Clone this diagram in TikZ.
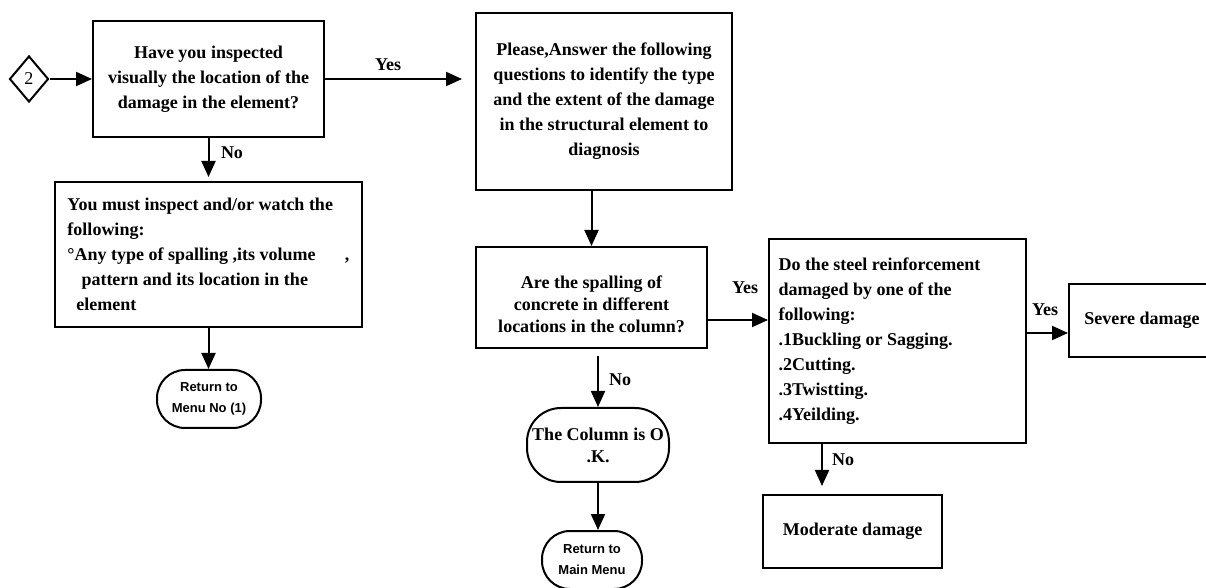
\documentclass[tikz,border=0pt]{standalone}
\usepackage{fontspec}
\setmainfont{Liberation Serif}
\newfontfamily\sansfam{Liberation Sans}
\usetikzlibrary{arrows.meta,shapes.geometric}
\begin{document}
\begin{tikzpicture}[x=0.5pt,y=-0.5pt,
  box/.style={draw,line width=1pt,inner sep=0pt,font=\bfseries\fontsize{9}{12.5}\selectfont,align=center},
  term/.style={draw,line width=1pt,inner sep=0pt,align=center},
  sansfont/.style={font=\sansfam\bfseries\fontsize{6.5}{10.5}\selectfont},
  arr/.style={line width=1pt,-{Triangle[length=8pt,width=7pt]}},
  lbl/.style={font=\bfseries\fontsize{9}{11}\selectfont,inner sep=0pt}]
\useasboundingbox (0,0) rectangle (1206,588);
\clip (0,0) rectangle (1206,588);
% nodes
\node[diamond,draw,line width=1pt,minimum width=19.5pt,minimum height=23pt,inner sep=0pt,
  font=\fontsize{9}{11}\selectfont] (d) at (29,79) {2};
\node[box,minimum width=115.5pt,minimum height=58pt] (b1) at (208.5,79)
  {Have you inspected\\visually the location of the\\damage in the element?};
\node[box,minimum width=128pt,minimum height=88.5pt] (b3) at (604,101.5)
  {Please,Answer the following\\questions to identify the type\\and the extent of the damage\\in the structural element to\\diagnosis};
\node[box,minimum width=153.5pt,minimum height=72.5pt,align=flush left,text width=141pt] (b2) at (208.5,254.5)
  {You must inspect and/or watch the\\following:\\°Any type of spalling ,its volume\hfill,\\\hspace*{7pt}pattern and its location in the\\\hspace*{4.5pt}element};
\node[term,sansfont,rounded corners=14pt,minimum width=52pt,minimum height=29pt] (t1) at (209,399)
  {Return to\\Menu No (1)};
\node[box,minimum width=115.5pt,minimum height=50.5pt,font=\bfseries\fontsize{9}{11}\selectfont,
  text height=35.5pt] (b4) at (591.5,297.5)
  {Are the spalling of\\concrete in different\\locations in the column?};
\node[term,rounded corners=17pt,minimum width=71pt,minimum height=37pt,font=\bfseries\fontsize{9}{11}\selectfont] (t2) at (598,445)
  {The Column is O\\.K.};
\node[term,sansfont,rounded corners=14pt,minimum width=50pt,minimum height=29pt] (t3) at (592,560)
  {Return to\\Main Menu};
\node[box,minimum width=128.5pt,minimum height=102pt,align=flush left,text width=119pt] (b5) at (897.5,341)
  {Do the steel reinforcement\\damaged by one of the\\following:\\.1Buckling or Sagging.\\.2Cutting.\\.3Twistting.\\.4Yeilding.};
\node[box,minimum width=73pt,minimum height=36.5pt] (b6) at (1142,320.5) {Severe damage};
\node[box,minimum width=89.5pt,minimum height=36.5pt] (b7) at (852.5,531.5) {Moderate damage};
% labels
\node[lbl] (y1) at (388,65) {Yes};
\node[lbl] (n1) at (232,153) {No};
\node[lbl] (y2) at (745,288) {Yes};
\node[lbl] (n2) at (620,380) {No};
\node[lbl] (y3) at (1045,310) {Yes};
\node[lbl] (n3) at (843,460) {No};
% connectors
\draw[arr] (d.east) -- (d.east -| b1.west);
\draw[arr,shorten >=6.5pt] (b1.east) -- (b1.east -| b3.west);
\draw[arr,shorten >=2pt] (b1.south) -- (b2.north);
\draw[arr] (b2.south) -- (b2.south |- t1.north);
\draw[arr] (b4.north |- b3.south) -- (b4.north);
\draw[arr,shorten <=3.5pt] (t2.north |- b4.south) -- (t2.north);
\draw[arr] (t2.south) -- (t2.south |- t3.north);
\draw[arr] ([yshift=-11.25pt]b4.east) -- ([yshift=-11.25pt]b4.east -| b5.west);
\draw[arr] ([yshift=4pt]b5.east) -- ([yshift=4pt]b5.east -| b6.west);
\draw[arr,shorten >=4pt] ([xshift=-37.75pt]b5.south) -- ([xshift=-37.75pt]b5.south |- b7.north);
\end{tikzpicture}
\end{document}
